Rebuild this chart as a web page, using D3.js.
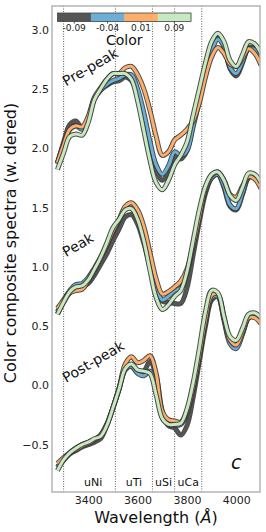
<!DOCTYPE html>
<html>
<head>
<meta charset="utf-8">
<script src="https://cdn.jsdelivr.net/npm/d3@7"></script>
<style>
  body { margin: 0; background: #fff; }
  svg { display: block; font-family: "DejaVu Sans", sans-serif; }
</style>
</head>
<body>
<div id="chart"></div>
<script>
// wavelength grid (Å) shared by all spectra
const wavelengths = [3275, 3300, 3325, 3350, 3375, 3400, 3425, 3450, 3475, 3500, 3525, 3550,
  3575, 3600, 3625, 3650, 3675, 3700, 3725, 3750, 3775, 3800, 3825, 3850,
  3875, 3900, 3925, 3950, 3975, 4000, 4025, 4050, 4075, 4100];

// color bins, one spectrum per bin and phase
const colorValues = [-0.09, -0.04, 0.01, 0.09];
const colorTickLabels = ["-0.09", "-0.04", "0.01", "0.09"];
const lineColors = ["#555555", "#6baed6", "#fdae6b", "#c7e9c0"];

const phaseNames = ["Pre-peak", "Peak", "Post-peak"];

const prePeakSpectra = [
  [1.87, 2.05, 2.20, 2.23, 2.17, 2.25, 2.42, 2.49, 2.53, 2.56, 2.57, 2.60, 2.57, 2.45, 2.25, 2.02, 1.82, 1.73, 1.80, 1.93, 1.91, 1.98, 2.20, 2.42, 2.65, 2.85, 2.93, 2.86, 2.67, 2.61, 2.72, 2.85, 2.84, 2.76],
  [1.87, 2.03, 2.16, 2.19, 2.16, 2.25, 2.42, 2.49, 2.54, 2.57, 2.59, 2.62, 2.62, 2.50, 2.30, 2.06, 1.86, 1.78, 1.85, 1.97, 1.94, 1.98, 2.18, 2.40, 2.63, 2.82, 2.92, 2.86, 2.68, 2.63, 2.73, 2.84, 2.83, 2.75],
  [1.88, 2.03, 2.16, 2.19, 2.18, 2.27, 2.43, 2.51, 2.58, 2.63, 2.63, 2.68, 2.69, 2.62, 2.50, 2.32, 2.10, 1.94, 1.97, 2.07, 2.11, 2.16, 2.23, 2.38, 2.60, 2.77, 2.85, 2.80, 2.71, 2.69, 2.76, 2.84, 2.80, 2.70],
  [1.82, 1.96, 2.10, 2.12, 2.11, 2.22, 2.41, 2.50, 2.58, 2.63, 2.63, 2.63, 2.58, 2.40, 2.15, 1.90, 1.71, 1.65, 1.73, 1.86, 1.94, 2.05, 2.28, 2.50, 2.72, 2.90, 2.97, 2.90, 2.74, 2.69, 2.79, 2.90, 2.88, 2.80]
];

const peakSpectra = [
  [0.60, 0.70, 0.78, 0.82, 0.83, 0.86, 0.93, 1.02, 1.11, 1.22, 1.32, 1.42, 1.44, 1.36, 1.20, 1.00, 0.82, 0.71, 0.70, 0.69, 0.69, 0.82, 1.10, 1.38, 1.62, 1.75, 1.78, 1.67, 1.51, 1.48, 1.61, 1.75, 1.76, 1.71],
  [0.62, 0.72, 0.80, 0.85, 0.86, 0.91, 0.99, 1.08, 1.18, 1.29, 1.39, 1.49, 1.52, 1.45, 1.28, 1.05, 0.84, 0.72, 0.75, 0.80, 0.82, 0.95, 1.18, 1.43, 1.64, 1.75, 1.78, 1.68, 1.52, 1.49, 1.62, 1.76, 1.76, 1.70],
  [0.65, 0.72, 0.78, 0.80, 0.81, 0.88, 0.97, 1.07, 1.18, 1.30, 1.40, 1.51, 1.54, 1.48, 1.34, 1.12, 0.90, 0.77, 0.79, 0.83, 0.88, 0.98, 1.18, 1.42, 1.66, 1.77, 1.80, 1.73, 1.61, 1.59, 1.68, 1.76, 1.74, 1.66],
  [0.60, 0.70, 0.79, 0.83, 0.84, 0.89, 0.98, 1.08, 1.20, 1.33, 1.40, 1.48, 1.49, 1.40, 1.22, 0.97, 0.74, 0.64, 0.68, 0.75, 0.80, 0.96, 1.22, 1.48, 1.68, 1.78, 1.80, 1.73, 1.60, 1.56, 1.67, 1.79, 1.78, 1.71]
];

const postPeakSpectra = [
  [-0.69, -0.63, -0.58, -0.55, -0.52, -0.50, -0.48, -0.45, -0.34, -0.19, -0.03, 0.14, 0.16, 0.11, 0.12, 0.20, 0.08, -0.22, -0.34, -0.36, -0.42, -0.34, -0.10, 0.20, 0.50, 0.72, 0.75, 0.56, 0.37, 0.33, 0.44, 0.57, 0.58, 0.54],
  [-0.69, -0.63, -0.57, -0.53, -0.50, -0.48, -0.46, -0.42, -0.33, -0.19, -0.03, 0.13, 0.16, 0.10, 0.08, 0.12, -0.02, -0.27, -0.33, -0.34, -0.33, -0.24, -0.03, 0.24, 0.53, 0.74, 0.75, 0.55, 0.35, 0.31, 0.43, 0.57, 0.58, 0.54],
  [-0.66, -0.61, -0.57, -0.54, -0.51, -0.49, -0.46, -0.42, -0.33, -0.19, -0.02, 0.18, 0.24, 0.19, 0.21, 0.25, 0.10, -0.22, -0.29, -0.30, -0.31, -0.22, -0.02, 0.25, 0.55, 0.76, 0.77, 0.58, 0.38, 0.34, 0.45, 0.57, 0.57, 0.52],
  [-0.72, -0.63, -0.57, -0.53, -0.50, -0.48, -0.45, -0.43, -0.34, -0.19, -0.03, 0.14, 0.18, 0.13, 0.12, 0.10, -0.08, -0.28, -0.33, -0.33, -0.32, -0.20, 0.02, 0.31, 0.62, 0.80, 0.78, 0.58, 0.41, 0.38, 0.48, 0.60, 0.61, 0.57]
];

const phaseSpectra = [prePeakSpectra, peakSpectra, postPeakSpectra];
// where each phase name sits: [wavelength, flux]
const phaseLabelAt = [[3310, 2.52], [3310, 1.08], [3310, 0.02]];

// filter band edges and names
const bandEdges = [3300, 3510, 3660, 3750, 3860];
const bandNames = ["uNi", "uTi", "uSi", "uCa"];
const bandLabelAt = [3420, 3585, 3705, 3805];

const xTicks = [3400, 3600, 3800, 4000];
const yTicks = [-0.5, 0.0, 0.5, 1.0, 1.5, 2.0, 2.5, 3.0];

const W = 266, H = 532;
const margin = { top: 6, right: 6, bottom: 40, left: 52 };

const svg = d3.select("#chart").append("svg")
  .attr("width", W).attr("height", H);

const x = d3.scaleLinear().domain([3253, 4096]).range([margin.left, W - margin.right]);
const y = d3.scaleLinear().domain([-0.9, 3.2]).range([H - margin.bottom, margin.top]);

svg.append("clipPath").attr("id", "clip")
  .append("rect")
  .attr("x", margin.left).attr("y", margin.top)
  .attr("width", W - margin.left - margin.right)
  .attr("height", H - margin.top - margin.bottom);

// band edges
svg.append("g").selectAll("line")
  .data(bandEdges).join("line")
  .attr("x1", d => x(d)).attr("x2", d => x(d))
  .attr("y1", y.range()[1]).attr("y2", y.range()[0])
  .attr("stroke", "#333").attr("stroke-width", 0.8)
  .attr("stroke-dasharray", "1,1.5");

// spectra
const line = d3.line()
  .x((d, i) => x(wavelengths[i]))
  .y(d => y(d))
  .curve(d3.curveCatmullRom.alpha(0.5));

const plot = svg.append("g").attr("clip-path", "url(#clip)");
phaseSpectra.forEach(group => {
  group.forEach((vals, k) => {
    plot.append("path").datum(vals)
      .attr("d", line).attr("fill", "none")
      .attr("stroke", "#3a3a3a").attr("stroke-width", 5)
      .attr("stroke-linejoin", "round").attr("stroke-opacity", 0.9);
    plot.append("path").datum(vals)
      .attr("d", line).attr("fill", "none")
      .attr("stroke", lineColors[k]).attr("stroke-width", 3)
      .attr("stroke-linejoin", "round");
  });
});

// phase names
svg.append("g").selectAll("text")
  .data(phaseNames).join("text")
  .attr("transform", (d, i) => `translate(${x(phaseLabelAt[i][0])},${y(phaseLabelAt[i][1])}) rotate(-30)`)
  .attr("font-size", 14).attr("fill", "#111")
  .text(d => d);

// band names
svg.append("g").selectAll("text")
  .data(bandNames).join("text")
  .attr("x", (d, i) => x(bandLabelAt[i]))
  .attr("y", y(-0.85))
  .attr("text-anchor", "middle")
  .attr("font-size", 11).attr("fill", "#111")
  .text(d => d);

svg.append("text")
  .attr("x", x(4000)).attr("y", y(-0.71))
  .attr("text-anchor", "middle")
  .attr("font-size", 19).attr("font-style", "italic").attr("fill", "#111")
  .text("c");

// frame
svg.append("rect")
  .attr("x", margin.left).attr("y", margin.top)
  .attr("width", W - margin.left - margin.right)
  .attr("height", H - margin.top - margin.bottom)
  .attr("fill", "none").attr("stroke", "#b0b0b0").attr("stroke-width", 1.4);

// axes
const xAxis = svg.append("g")
  .attr("transform", `translate(0,${H - margin.bottom})`)
  .call(d3.axisBottom(x).tickValues(xTicks).tickSize(0).tickPadding(4).tickFormat(d3.format("d")));
const yAxis = svg.append("g")
  .attr("transform", `translate(${margin.left},0)`)
  .call(d3.axisLeft(y).tickValues(yTicks).tickSize(0).tickPadding(3).tickFormat(d3.format(".1f")));
[xAxis, yAxis].forEach(g => {
  g.select(".domain").remove();
  g.selectAll("text").attr("font-size", 11).attr("fill", "#222")
    .attr("font-family", "DejaVu Sans, sans-serif");
});

svg.append("text")
  .attr("x", (margin.left + W - margin.right) / 2).attr("y", H - 9)
  .attr("text-anchor", "middle").attr("font-size", 16).attr("fill", "#111")
  .text("Wavelength (")
  .append("tspan").attr("font-style", "italic").text("Å")
  .select(function () { return this.parentNode; })
  .append("tspan").text(")");

svg.append("text")
  .attr("transform", `translate(16,${243}) rotate(-90)`)
  .attr("text-anchor", "middle").attr("font-size", 16).attr("fill", "#111")
  .text("Color composite spectra (w. dered)");

// colorbar
const cb = d3.scaleBand().domain(colorValues).range([57.5, 191]).paddingInner(0);
const cbTop = 13, cbH = 8.5;
svg.append("g").selectAll("rect")
  .data(colorValues).join("rect")
  .attr("x", d => cb(d)).attr("y", cbTop)
  .attr("width", cb.bandwidth() + 0.5).attr("height", cbH)
  .attr("fill", (d, i) => lineColors[i]);
svg.append("rect")
  .attr("x", cb.range()[0]).attr("y", cbTop)
  .attr("width", cb.range()[1] - cb.range()[0]).attr("height", cbH)
  .attr("fill", "none").attr("stroke", "#444").attr("stroke-width", 0.8);
const cbAxis = svg.append("g")
  .attr("transform", `translate(0,${cbTop + cbH})`)
  .call(d3.axisBottom(cb).tickSize(2).tickPadding(1.5).tickFormat((d, i) => colorTickLabels[i]));
cbAxis.select(".domain").remove();
cbAxis.selectAll("line").attr("stroke", "#444");
cbAxis.selectAll("text").attr("font-size", 9).attr("fill", "#222")
  .attr("font-family", "DejaVu Sans, sans-serif");

svg.append("text")
  .attr("x", (cb.range()[0] + cb.range()[1]) / 2).attr("y", 45)
  .attr("text-anchor", "middle").attr("font-size", 14).attr("fill", "#111")
  .text("Color");
</script>
</body>
</html>
